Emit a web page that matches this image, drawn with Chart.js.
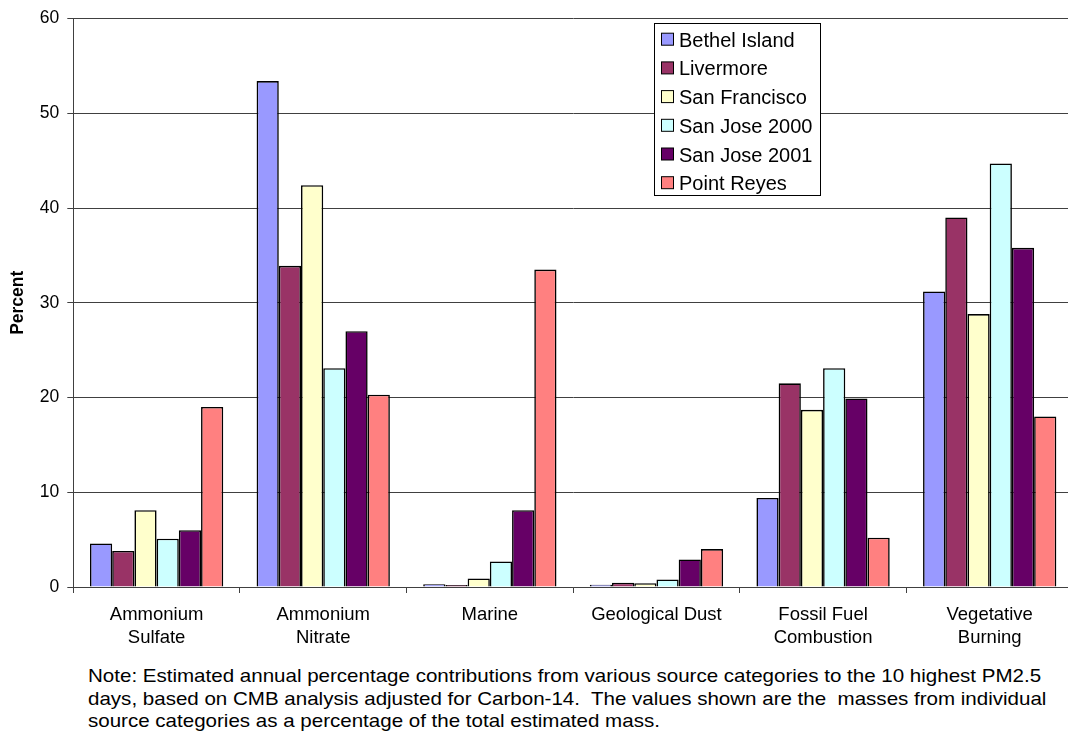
<!DOCTYPE html>
<html lang="en">
<head>
    <meta charset="UTF-8">
    <title>PM2.5 Source Contributions</title>
    <script src="https://cdn.jsdelivr.net/npm/chart.js"></script>
    <style>
        body {
            margin: 0;
            background: #ffffff;
            overflow: hidden;
            font-family: Arial, "Liberation Sans", sans-serif;
        }
        .wrap {
            position: relative;
            width: 1080px;
            height: 735px;
        }
        .note {
            position: absolute;
            left: 88px;
            top: 665px;
            font-size: 18.5px;
            line-height: 22.7px;
            color: #000;
            white-space: pre;
            transform: scaleX(1.11);
            transform-origin: left top;
        }
    </style>
</head>
<body>

<div class="wrap">
    <canvas id="pmChart" width="1080" height="660"></canvas>
    <div class="note">Note: Estimated annual percentage contributions from various source categories to the 10 highest PM2.5
days, based on CMB analysis adjusted for Carbon-14.  The values shown are the  masses from individual
source categories as a percentage of the total estimated mass.</div>
</div>

<script>
    // source categories
    const categories = [
        ['Ammonium', 'Sulfate'],
        ['Ammonium', 'Nitrate'],
        'Marine',
        'Geological Dust',
        ['Fossil Fuel', 'Combustion'],
        ['Vegetative', 'Burning']
    ];

    // percent of total mass, per site
    const bethelIsland  = [4.6, 53.4, 0.3, 0.25, 9.4, 31.2];
    const livermore     = [3.8, 33.9, 0.2, 0.45, 21.5, 39.0];
    const sanFrancisco  = [8.1, 42.4, 0.9, 0.4, 18.7, 28.8];
    const sanJose2000   = [5.1, 23.1, 2.7, 0.8, 23.1, 44.7];
    const sanJose2001   = [6.0, 27.0, 8.1, 2.9, 19.9, 35.8];
    const pointReyes    = [19.0, 20.3, 33.5, 4.0, 5.2, 18.0];

    const siteNames = ['Bethel Island', 'Livermore', 'San Francisco', 'San Jose 2000', 'San Jose 2001', 'Point Reyes'];
    const siteValues = [bethelIsland, livermore, sanFrancisco, sanJose2000, sanJose2001, pointReyes];
    const siteColors = ['#9999ff', '#993366', '#ffffcc', '#ccffff', '#660066', '#ff8080'];

    const yTicks = [0, 10, 20, 30, 40, 50, 60];

    const FONT = 'Arial, "Liberation Sans", sans-serif';
    const LINE = '#404040';

    // boxed legend in the upper right of the plot
    const boxLegend = {
        id: 'boxLegend',
        afterDraw(chart) {
            const ctx = chart.ctx;
            const x = 654.5, y = 23.5, w = 166, h = 172;
            ctx.save();
            ctx.fillStyle = '#ffffff';
            ctx.fillRect(x, y, w, h);
            ctx.strokeStyle = '#000000';
            ctx.lineWidth = 1;
            ctx.strokeRect(x, y, w, h);
            ctx.font = '20px ' + FONT;
            ctx.textBaseline = 'alphabetic';
            chart.data.datasets.forEach((ds, i) => {
                const base = 46.7 + i * 28.7;
                ctx.fillStyle = ds.backgroundColor;
                ctx.fillRect(661.5, base - 13.5, 12, 12);
                ctx.strokeStyle = '#000000';
                ctx.strokeRect(661.5, base - 13.5, 12, 12);
                ctx.fillStyle = '#000000';
                ctx.fillText(ds.label, 679, base);
            });
            ctx.restore();
        }
    };

    new Chart(document.getElementById('pmChart'), {
        type: 'bar',
        data: {
            labels: categories,
            datasets: siteNames.map((name, i) => ({
                label: name,
                data: siteValues[i],
                backgroundColor: siteColors[i],
                borderColor: '#000000',
                borderWidth: 1.6,
                categoryPercentage: 0.8,
                barPercentage: 1.0
            }))
        },
        options: {
            responsive: false,
            animation: false,
            layout: { padding: { top: 12, right: 7, left: 0, bottom: 0 } },
            plugins: {
                legend: { display: false },
                tooltip: { enabled: false }
            },
            scales: {
                x: {
                    grid: {
                        drawOnChartArea: false,
                        drawTicks: true,
                        tickLength: 6,
                        color: LINE
                    },
                    border: { display: true, color: LINE, width: 1 },
                    ticks: {
                        color: '#000',
                        padding: 11,
                        maxRotation: 0,
                        autoSkip: false,
                        font: { family: FONT, size: 18.5, lineHeight: 1.227 }
                    },
                    afterFit(scale) { scale.height = 73; }
                },
                y: {
                    min: 0,
                    max: 60,
                    afterBuildTicks(scale) {
                        scale.ticks = yTicks.map(v => ({ value: v }));
                    },
                    grid: {
                        color: LINE,
                        drawTicks: true,
                        tickLength: 6,
                        lineWidth: 1
                    },
                    border: { display: true, color: LINE, width: 1 },
                    ticks: {
                        color: '#000',
                        padding: 8,
                        font: { family: FONT, size: 17.5 }
                    },
                    title: {
                        display: true,
                        text: 'Percent',
                        color: '#000',
                        padding: { top: 8, bottom: 0 },
                        font: { family: FONT, size: 17.5, weight: 'bold' }
                    },
                    afterFit(scale) { scale.width = 73.3; }
                }
            }
        },
        plugins: [boxLegend]
    });
</script>

</body>
</html>
